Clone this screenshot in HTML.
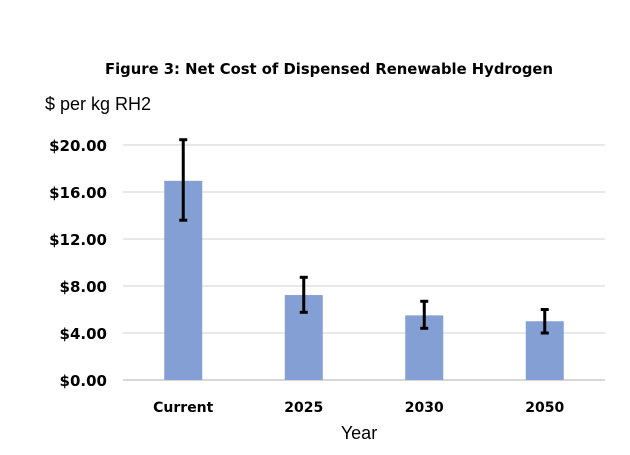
<!DOCTYPE html>
<html><head><meta charset="utf-8"><style>
body{margin:0;background:#fff;}
svg{display:block;font-family:"Liberation Sans",Arial,sans-serif;}
</style></head><body>
<svg width="630" height="455" viewBox="0 0 630 455" xmlns="http://www.w3.org/2000/svg">
<text x="329" y="74" text-anchor="middle" font-size="15.5" font-weight="bold" font-family="DejaVu Sans, sans-serif" textLength="448" lengthAdjust="spacingAndGlyphs" fill="#000">Figure 3: Net Cost of Dispensed Renewable Hydrogen</text>
<text x="45" y="110" font-size="18" fill="#000">$ per kg RH2</text>
<text x="359" y="439" text-anchor="middle" font-size="18" fill="#000">Year</text>
<g id="grid"></g><g id="bars"></g><g id="errs"></g><g id="labels"></g>
</svg>
<script>
const categories=["Current","2025","2030","2050"];
const values=[16.95,7.23,5.5,5.0];
const errHigh=[20.45,8.74,6.7,6.0];
const errLow=[13.6,5.76,4.4,4.0];
const yTicks=[0,4,8,12,16,20];
const yTickLabels=["$0.00","$4.00","$8.00","$12.00","$16.00","$20.00"];
const NS="http://www.w3.org/2000/svg";
const x0=123,x1=605,yZero=380,yTop=145,yMax=20;
const y=v=>yZero-(v/yMax)*(yZero-yTop);
const band=(x1-x0)/categories.length;
const cx=i=>x0+band*(i+0.5);
function mk(tag,attrs,parent,text){const e=document.createElementNS(NS,tag);for(const k in attrs)e.setAttribute(k,attrs[k]);if(text!==undefined)e.textContent=text;document.getElementById(parent).appendChild(e);return e;}
yTicks.forEach((t,i)=>{
  const l=mk('line',{x1:x0,x2:x1,y1:y(t),y2:y(t),stroke:t===0?'#bfbfbf':'#d9d9d9','stroke-width':1.3},'grid');
  
  
  const tx=mk('text',{x:107,y:y(t)+6,'text-anchor':'end','font-size':15,'font-weight':'bold','font-family':'DejaVu Sans, sans-serif',fill:'#000'},'labels',yTickLabels[i]);
  
  
});
categories.forEach((c,i)=>{
  const bw=38;
  const r=mk('rect',{x:cx(i)-bw/2,y:y(values[i]),width:bw,height:yZero-y(values[i]),fill:'#849fd4'},'bars');
  
  
  const g=mk('g',{stroke:'#000','stroke-width':3},'errs');
  
  
  const X=cx(i);
  [[X,y(errHigh[i]),X,y(errLow[i])],[X-4,y(errHigh[i]),X+4,y(errHigh[i])],[X-4,y(errLow[i]),X+4,y(errLow[i])]].forEach(p=>{
    const l=document.createElementNS(NS,'line');
    l.setAttribute('x1',p[0]);l.setAttribute('y1',p[1]);l.setAttribute('x2',p[2]);l.setAttribute('y2',p[3]);
    g.appendChild(l);
  });
  const t=mk('text',{x:X,y:412,'text-anchor':'middle','font-size':14,'font-weight':'bold','font-family':'DejaVu Sans, sans-serif',fill:'#000'},'labels',c);
  
  
});
</script>
</body></html>
